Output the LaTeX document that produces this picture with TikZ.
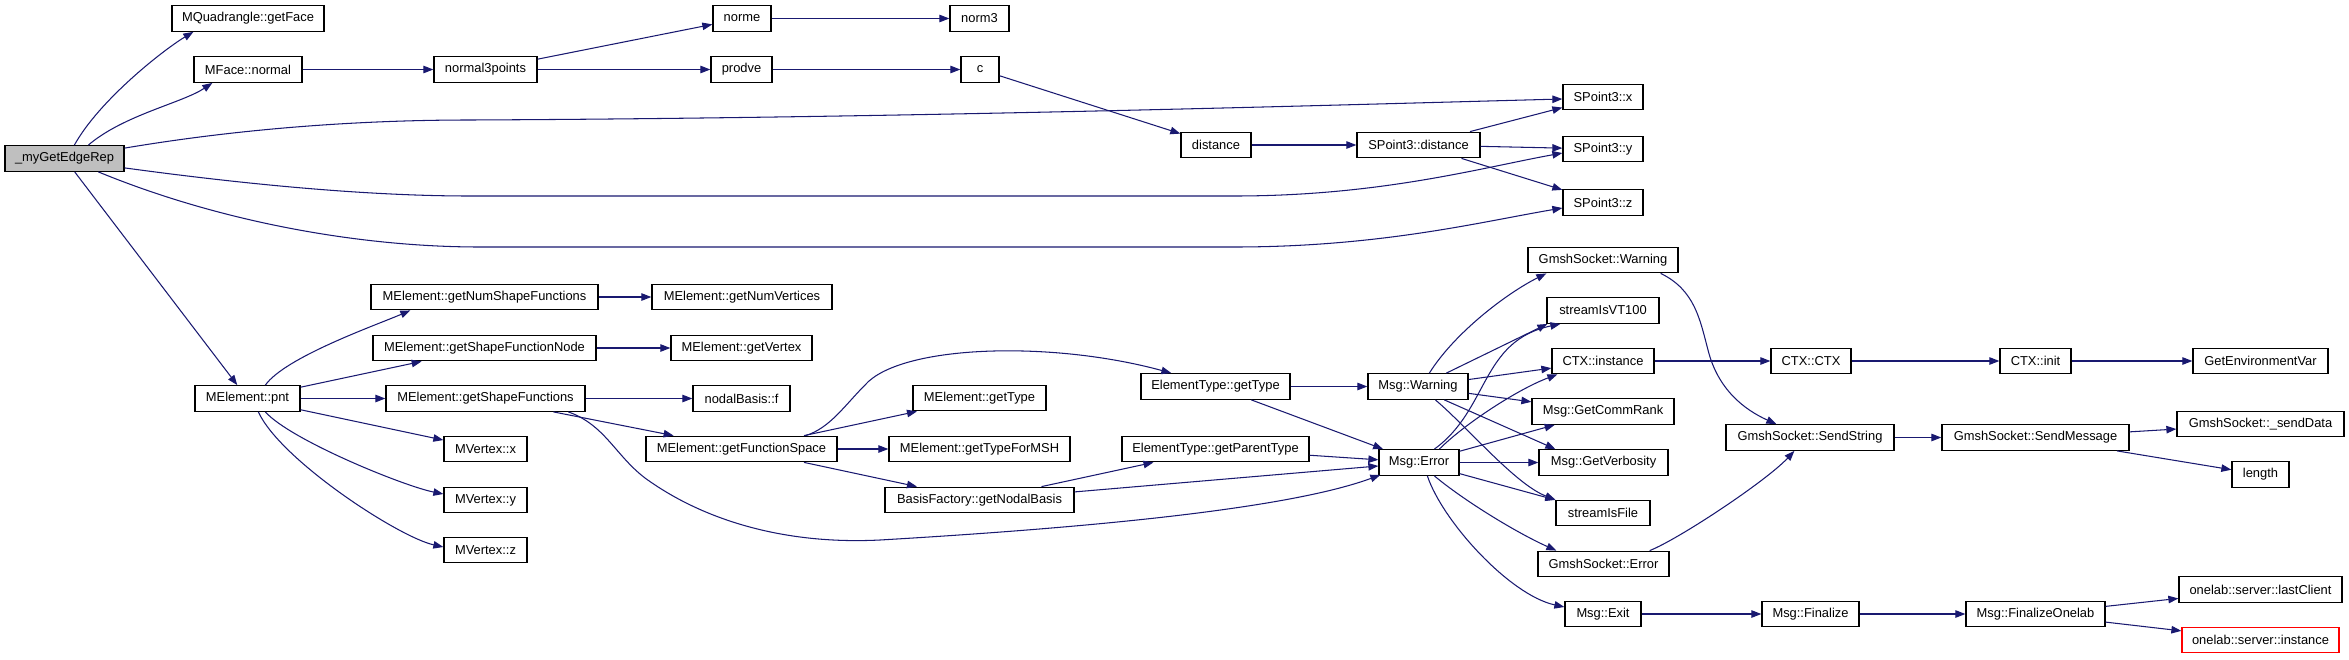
\documentclass[tikz,border=0pt]{standalone}
\usepackage{fontspec}
\setmainfont{Liberation Sans}
\usetikzlibrary{arrows.meta,calc}
\definecolor{edgecol}{HTML}{191970}
\definecolor{rootfill}{HTML}{BFBFBF}
\begin{document}
\begin{tikzpicture}[x=1pt,y=-1pt,
  box/.style={draw=black,line width=1.3pt,minimum height=25.5pt,inner sep=0pt,
    font=\fontsize{12.9}{14}\selectfont,fill=white},
  e/.style={draw=edgecol,line width=1.05pt,-{Triangle[length=10pt,width=7.5pt]}}]
\useasboundingbox (0,0) rectangle (2349,659);

% column 0
\node[box,fill=rootfill,minimum width=119pt] (my) at (64.5,158.5) {\_myGetEdgeRep};
% column 1
\node[box,minimum width=152pt] (gf) at (248,18.5) {MQuadrangle::getFace};
\node[box,minimum width=108pt] (fn) at (248,69.5) {MFace::normal};
\node[box,minimum width=105pt] (pnt) at (247.5,398.5) {MElement::pnt};
% column 2
\node[box,minimum width=103pt] (n3p) at (485.5,69.5) {normal3points};
\node[box,minimum width=227pt] (gnsf) at (484.5,297) {MElement::getNumShapeFunctions};
\node[box,minimum width=223pt] (gsfn) at (484.5,348) {MElement::getShapeFunctionNode};
\node[box,minimum width=199pt] (gsf) at (485.5,398.5) {MElement::getShapeFunctions};
\node[box,minimum width=83pt] (mvx) at (485.5,449) {MVertex::x};
\node[box,minimum width=83pt] (mvy) at (485.5,500) {MVertex::y};
\node[box,minimum width=83pt] (mvz) at (485.5,550) {MVertex::z};
% column 3
\node[box,minimum width=58pt] (norme) at (742,18.5) {norme};
\node[box,minimum width=61pt] (prodve) at (741.5,69.5) {prodve};
\node[box,minimum width=180pt] (gnv) at (742,297) {MElement::getNumVertices};
\node[box,minimum width=141pt] (gv) at (741.5,348) {MElement::getVertex};
\node[box,minimum width=97pt] (nbf) at (741.5,398.5) {nodalBasis::f};
\node[box,minimum width=191pt] (gfs) at (741.5,449) {MElement::getFunctionSpace};
% column 4
\node[box,minimum width=59pt] (norm3) at (979.5,18.5) {norm3};
\node[box,minimum width=38pt] (c) at (980,69.5) {c};
\node[box,minimum width=133pt] (mgt) at (979.5,398) {MElement::getType};
\node[box,minimum width=181pt] (mgtm) at (979.5,449) {MElement::getTypeForMSH};
\node[box,minimum width=189pt] (bfnb) at (979.5,500) {BasisFactory::getNodalBasis};
% column 5
\node[box,minimum width=70pt] (dist) at (1216,145) {distance};
\node[box,minimum width=149pt] (etgt) at (1215.5,386.5) {ElementType::getType};
\node[box,minimum width=187pt] (etgpt) at (1215.5,449) {ElementType::getParentType};
% column 6
\node[box,minimum width=123pt] (spd) at (1418.5,145) {SPoint3::distance};
\node[box,minimum width=100pt] (mw) at (1418,386.5) {Msg::Warning};
\node[box,minimum width=80pt] (me) at (1419,462.5) {Msg::Error};
% column 7
\node[box,minimum width=80pt] (spx) at (1603,97) {SPoint3::x};
\node[box,minimum width=80pt] (spy) at (1603,149) {SPoint3::y};
\node[box,minimum width=80pt] (spz) at (1603,202.5) {SPoint3::z};
\node[box,minimum width=150pt] (gsw) at (1603,260) {GmshSocket::Warning};
\node[box,minimum width=112pt] (vt) at (1603,310.5) {streamIsVT100};
\node[box,minimum width=102pt] (ctxi) at (1603,361) {CTX::instance};
\node[box,minimum width=142pt] (gcr) at (1603,411.5) {Msg::GetCommRank};
\node[box,minimum width=129pt] (gvb) at (1603.5,462.5) {Msg::GetVerbosity};
\node[box,minimum width=94pt] (sif) at (1603,513) {streamIsFile};
\node[box,minimum width=131pt] (gse) at (1603.5,564) {GmshSocket::Error};
\node[box,minimum width=76pt] (mex) at (1603,614) {Msg::Exit};
% column 8
\node[box,minimum width=80pt] (ctx) at (1811,361) {CTX::CTX};
\node[box,minimum width=168pt] (gss) at (1810,437.5) {GmshSocket::SendString};
\node[box,minimum width=97pt] (mfin) at (1810.5,614) {Msg::Finalize};
% column 9
\node[box,minimum width=71pt] (ctxinit) at (2035.5,361) {CTX::init};
\node[box,minimum width=187pt] (gsm) at (2035.5,437.5) {GmshSocket::SendMessage};
\node[box,minimum width=139pt] (mfo) at (2035.5,614) {Msg::FinalizeOnelab};
% column 10
\node[box,minimum width=135pt] (gev) at (2260.5,361) {GetEnvironmentVar};
\node[box,minimum width=167pt] (gsd) at (2260.5,424) {GmshSocket::\_sendData};
\node[box,minimum width=57pt] (len) at (2260.5,474.5) {length};
\node[box,minimum width=163pt] (olc) at (2260.5,589.5) {onelab::server::lastClient};
\node[box,draw=red,minimum width=157pt] (osi) at (2260.5,640) {onelab::server::instance};

% edges from _myGetEdgeRep
\draw[e] ($(my.north west)+(70,0)$) .. controls +(25,-45) and +(-30,18) .. ($(gf.south west)+(22,0)$);
\draw[e] ($(my.north west)+(84,0)$) .. controls +(35,-30) and +(-30,20) .. ($(fn.south west)+(19,0)$);
\draw[e] ($(my.north east)+(0,3)$) .. controls (250,127) and (370,120) .. (470,120)
  .. controls (900,118) and (1300,106) .. ($(spx.west)+(0,2)$);
\draw[e] ($(my.south east)+(0,-4)$) .. controls (250,185) and (370,196) .. (470,196) -- (1234,196)
  .. controls (1380,196) and (1480,168) .. ($(spy.west)+(0,4)$);
\draw[e] ($(my.south west)+(94,0)$) .. controls (220,222) and (360,247) .. (480,247) -- (1234,247)
  .. controls (1380,247) and (1480,222) .. ($(spz.west)+(0,5.5)$);
\draw[e] (my) -- (pnt);

% upper chain
\draw[e] (fn) -- (n3p);
\draw[e] (n3p) -- (norme);
\draw[e] (n3p) -- (prodve);
\draw[e] (norme) -- (norm3);
\draw[e] (prodve) -- (c);
\draw[e] (c) -- (dist);
\draw[e] (dist) -- (spd);
\draw[e] (spd) -- (spx);
\draw[e] (spd) -- (spy);
\draw[e] (spd) -- (spz);

% MElement::pnt
\draw[e] ($(pnt.north west)+(71,0)$) .. controls +(20,-28) and +(-35,15) .. ($(gnsf.south west)+(40,0)$);
\draw[e] (pnt) -- (gsfn);
\draw[e] (pnt) -- (gsf);
\draw[e] (pnt) -- (mvx);
\draw[e] ($(pnt.south west)+(71,0)$) .. controls +(25,28) and +(-40,-8) .. ($(mvy.west)+(0,-6)$);
\draw[e] ($(pnt.south west)+(64,0)$) .. controls +(22,48) and +(-45,-10) .. ($(mvz.west)+(0,-3)$);

\draw[e] (gnsf) -- (gnv);
\draw[e] (gsfn) -- (gv);
\draw[e] (gsf) -- (nbf);
\draw[e] (gsf) -- (gfs);
\draw[e] ($(gsf.south west)+(183,0)$) .. controls (605,425) and (615,455) .. (645,478)
  .. controls (700,518) and (780,545) .. (880,540)
  .. controls (1050,530) and (1280,512) .. ($(me.south west)+(2,-1)$);

% getFunctionSpace
\draw[e] ($(gfs.north east)+(-32,0)$) .. controls (830,428) and (845,405) .. (865,385)
  .. controls (900,345) and (1050,340) .. ($(etgt.north west)+(31,0)$);
\draw[e] (gfs) -- (mgt);
\draw[e] (gfs) -- (mgtm);
\draw[e] (gfs) -- (bfnb);
\draw[e] (bfnb) -- (etgpt);
\draw[e] (bfnb) -- (me);
\draw[e] (etgpt) -- (me);
\draw[e] (etgt) -- (mw);
\draw[e] (etgt) -- (me);

% Msg::Warning
\draw[e] ($(mw.north west)+(62,0)$) .. controls +(25,-40) and +(-40,20) .. ($(gsw.south west)+(19,0)$);
\draw[e] ($(mw.north west)+(79,0)$) -- ($(vt.south west)+(1,0)$);
\draw[e] (mw) -- (ctxi);
\draw[e] (mw) -- (gcr);
\draw[e] ($(mw.south west)+(77,0)$) -- ($(gvb.north west)+(17,0)$);
\draw[e] ($(mw.south west)+(68,0)$) .. controls +(30,25) and +(-40,-15) .. (sif.north west);

% Msg::Error
\draw[e] ($(me.north west)+(56,0)$) .. controls +(55,-40) and +(-80,17) .. ($(vt.south west)+(14,0)$);
\draw[e] ($(me.north west)+(61,0)$) .. controls +(25,-25) and +(-40,15) .. ($(ctxi.south west)+(6,0)$);
\draw[e] (me) -- (gcr);
\draw[e] (me) -- (gvb);
\draw[e] (me) -- (sif);
\draw[e] ($(me.south west)+(56,0)$) .. controls +(30,25) and +(-40,-18) .. ($(gse.north west)+(19,0)$);
\draw[e] ($(me.south west)+(49,0)$) .. controls +(15,45) and +(-55,-12) .. ($(mex.west)+(0,-7)$);

% right part
\draw[e] ($(gsw.south east)+(-18,0)$) .. controls (1695,290) and (1700,320) .. (1708,350)
  .. controls (1718,390) and (1745,410) .. ($(gss.north west)+(51,0)$);
\draw[e] ($(gse.north east)+(-20,0)$) .. controls +(30,-12) and +(-28,30) .. ($(gss.south west)+(69,0)$);
\draw[e] (ctxi) -- (ctx);
\draw[e] (ctx) -- (ctxinit);
\draw[e] (ctxinit) -- (gev);
\draw[e] (gss) -- (gsm);
\draw[e] (gsm) -- (gsd);
\draw[e] (gsm) -- (len);
\draw[e] (mex) -- (mfin);
\draw[e] (mfin) -- (mfo);
\draw[e] (mfo) -- (olc);
\draw[e] (mfo) -- (osi);
\end{tikzpicture}
\end{document}
